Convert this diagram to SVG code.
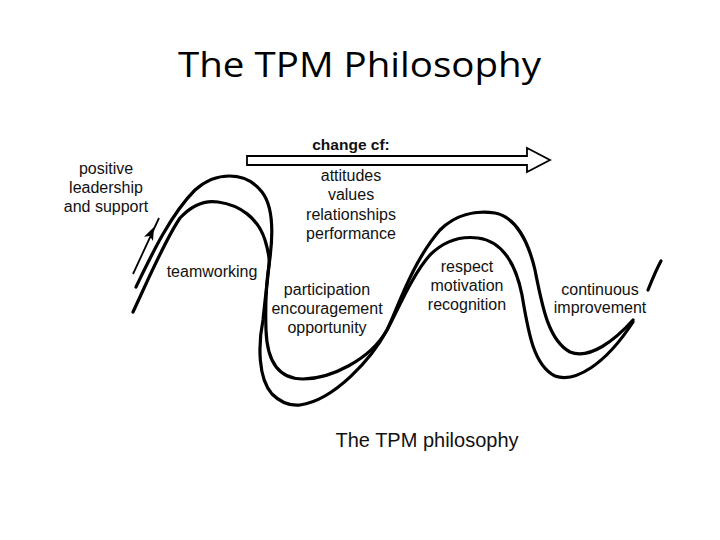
<svg xmlns="http://www.w3.org/2000/svg" width="720" height="540" viewBox="0 0 720 540">
<style>
.lbl{font-family:"Liberation Sans",Arial,sans-serif;font-size:16px;fill:#111;text-anchor:middle}
.curve{fill:none;stroke:#000;stroke-width:3.2;stroke-linecap:round;stroke-linejoin:round}
</style>
<rect width="720" height="540" fill="#fff"/>
<g id="title"><text x="359.5" y="77" font-family="'Open Sans','Noto Sans',sans-serif" font-size="34" fill="#000" text-anchor="middle" textLength="363" lengthAdjust="spacingAndGlyphs">The TPM Philosophy</text></g>
<g id="wave">
<path class="curve" d="M136,287 C150,258 170,215 195,190 C215,172 245,170 262,192 C276,210 272,245 269,265 C266,285 265,300 266,330 C267,360 278,379 303,379 C330,379 370,360 387,330 C397,310 412,262 440,230 C455,215 475,210 495,213 C515,217 528,240 535,270 C542,305 548,340 570,352 C590,360 615,340 633,320"/>
<path class="curve" d="M133,312 C148,280 165,240 180,218 C192,205 205,200 218,202 C240,205 258,218 265,240 C268,250 270,258 269,265 C267,285 265,300 263,320 C258,345 258,378 272,394 C280,402 290,406 300,405 C335,400 372,358 387,330 C397,312 412,275 430,255 C445,240 462,236 478,238 C500,241 515,260 522,295 C528,330 533,365 555,376 C575,383 605,365 633,322"/>
<path class="curve" d="M648,290 C652,280 656,270 661,261"/>
</g>
<g id="support-arrow">
<line x1="133" y1="274" x2="159" y2="218" stroke="#000" stroke-width="1.8"/>
<polygon points="154,227 144,236.7 149.8,236 153,241" fill="#000"/>
</g>
<g id="change-arrow">
<path d="M247,156 L527,156 L527,148 L550,160 L527,172 L527,165 L247,165 Z" fill="none" stroke="#000" stroke-width="1.8" stroke-linejoin="miter"/>
</g>
<g id="change-label">
<text class="lbl" x="351" y="150" style="font-weight:bold;font-size:15.5px">change cf:</text>
</g>
<g id="change-items">
<text class="lbl" x="351" y="181">attitudes</text>
<text class="lbl" x="351" y="200">values</text>
<text class="lbl" x="351" y="220">relationships</text>
<text class="lbl" x="351" y="239">performance</text>
</g>
<g id="positive-leadership">
<text class="lbl" x="106" y="174">positive</text>
<text class="lbl" x="106" y="193">leadership</text>
<text class="lbl" x="106" y="212">and support</text>
</g>
<g id="teamworking"><text class="lbl" x="212" y="277">teamworking</text></g>
<g id="participation">
<text class="lbl" x="327" y="295">participation</text>
<text class="lbl" x="327" y="314">encouragement</text>
<text class="lbl" x="327" y="333">opportunity</text>
</g>
<g id="respect">
<text class="lbl" x="467" y="272">respect</text>
<text class="lbl" x="467" y="291">motivation</text>
<text class="lbl" x="467" y="310">recognition</text>
</g>
<g id="continuous">
<text class="lbl" x="600" y="295">continuous</text>
<text class="lbl" x="600" y="313">improvement</text>
</g>
<g id="caption"><text class="lbl" x="427" y="447" style="font-size:20px">The TPM philosophy</text></g>
</svg>
